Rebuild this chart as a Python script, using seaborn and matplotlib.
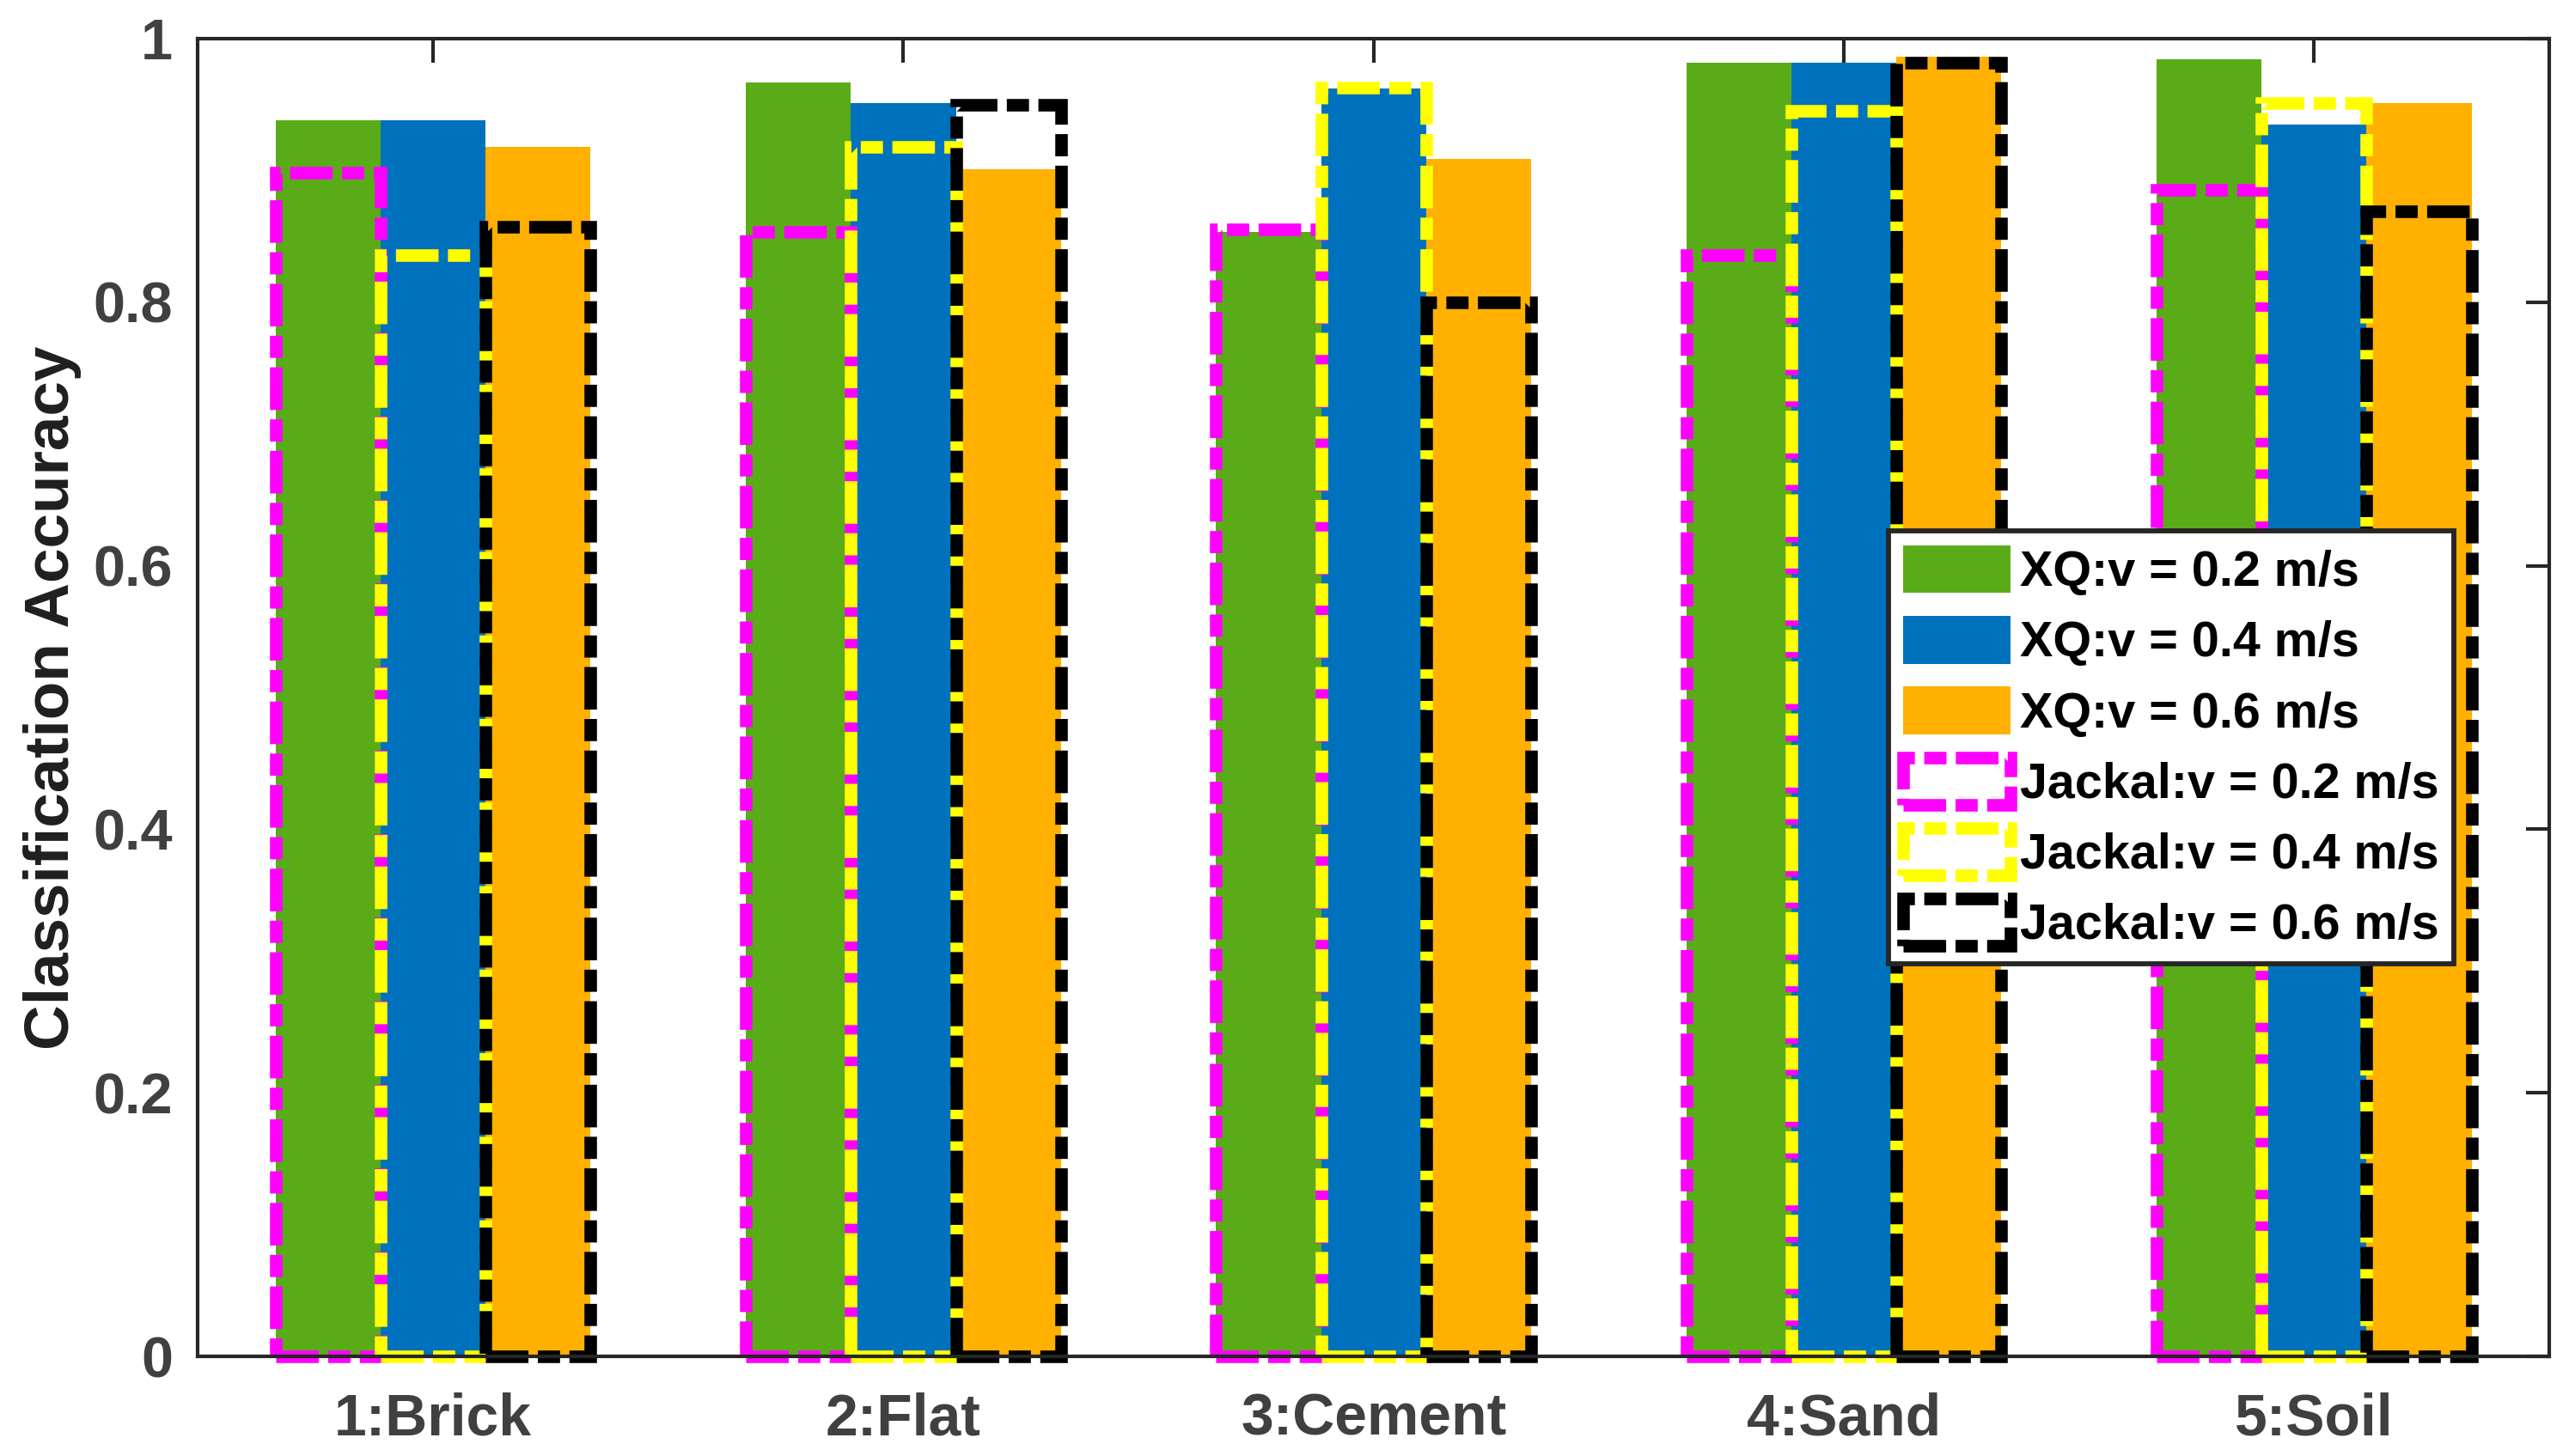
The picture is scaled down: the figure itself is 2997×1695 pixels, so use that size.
import matplotlib.pyplot as plt
import pandas as pd
import seaborn as sns
from matplotlib.patches import Patch

terrains = ["1:Brick", "2:Flat", "3:Cement", "4:Sand", "5:Soil"]

xq_labels = ["XQ:v = 0.2 m/s", "XQ:v = 0.4 m/s", "XQ:v = 0.6 m/s"]
jackal_labels = ["Jackal:v = 0.2 m/s", "Jackal:v = 0.4 m/s", "Jackal:v = 0.6 m/s"]

xq_v02 = [0.938, 0.967, 0.853, 0.982, 0.984]
xq_v04 = [0.938, 0.951, 0.962, 0.982, 0.935]
xq_v06 = [0.918, 0.901, 0.909, 0.986, 0.951]

jackal_v02 = [0.898, 0.853, 0.855, 0.836, 0.885]
jackal_v04 = [0.836, 0.918, 0.963, 0.945, 0.951]
jackal_v06 = [0.857, 0.950, 0.800, 0.982, 0.869]

y_ticks = [0, 0.2, 0.4, 0.6, 0.8, 1]
y_tick_labels = ["0", "0.2", "0.4", "0.6", "0.8", "1"]

xq_colors = ["#5AAB18", "#0072BD", "#FFB000"]
jackal_colors = ["#FF00FF", "#FFFF00", "#000000"]

DASH = (0, (3.4, 0.75, 1.77, 0.75))
LW_DASH = 3.5


def tabla(labels, series):
    filas = []
    for label, valores in zip(labels, series):
        for terreno, valor in zip(terrains, valores):
            filas.append({"terreno": terreno, "serie": label, "accuracy": valor})
    return pd.DataFrame(filas)


df_xq = tabla(xq_labels, [xq_v02, xq_v04, xq_v06])
df_jackal = tabla(jackal_labels, [jackal_v02, jackal_v04, jackal_v06])

sns.set_style("white")
plt.rcParams["font.family"] = ["Liberation Sans", "DejaVu Sans"]
plt.rcParams["font.weight"] = "bold"
plt.rcParams["axes.labelweight"] = "bold"

fig = plt.figure(figsize=(9.99, 5.65), dpi=300)
ax = fig.add_axes([0.0769, 0.0684, 0.990 - 0.0769, 0.9735 - 0.0684])

sns.barplot(
    data=df_xq, x="terreno", y="accuracy", hue="serie",
    order=terrains, hue_order=xq_labels, palette=xq_colors,
    saturation=1, width=0.67, gap=0, errorbar=None,
    linewidth=0, edgecolor="none", legend=False, ax=ax
)

sns.barplot(
    data=df_jackal, x="terreno", y="accuracy", hue="serie",
    order=terrains, hue_order=jackal_labels, palette=jackal_colors,
    saturation=1, width=0.67, gap=0, errorbar=None, fill=False,
    linewidth=LW_DASH, linestyle=DASH, legend=False, ax=ax
)

# los contornos punteados salen un poco por debajo del eje, como en el original
for container in ax.containers[3:]:
    for bar in container:
        bar.set_clip_on(False)

ax.set_xlim(-0.5, 4.5)
ax.set_ylim(0, 1)
ax.set_yticks(y_ticks)
ax.set_yticklabels(y_tick_labels)

ax.set_xlabel("")
ax.set_ylabel("Classification Accuracy", fontsize=17.5, color="#1f1f1f")
ax.yaxis.set_label_coords(-0.0495, 0.5)

ax.tick_params(axis="both", direction="in", top=True, right=True,
               length=6.6, width=1, color="#262626",
               labelcolor="#404040", labelsize=16)
ax.tick_params(axis="x", pad=10, labelsize=16.3)
ax.tick_params(axis="y", pad=7)

for spine in ax.spines.values():
    spine.set_visible(True)
    spine.set_color("#262626")
    spine.set_linewidth(1)

handles = [Patch(facecolor=c, edgecolor="none") for c in xq_colors]
handles += [Patch(facecolor="none", edgecolor=c, linewidth=LW_DASH, linestyle=DASH)
            for c in jackal_colors]

leg = ax.legend(
    handles, xq_labels + jackal_labels,
    loc="upper right", bbox_to_anchor=(0.9595, 0.6265), borderaxespad=0,
    fontsize=13.8, handlelength=2.17, handleheight=1.1,
    handletextpad=0.2, labelspacing=0.4, borderpad=0.3,
    frameon=True, fancybox=False, framealpha=1, edgecolor="#262626"
)
leg.get_frame().set_linewidth(1.4)
for text in leg.get_texts():
    text.set_color("black")

fig.savefig("out.png", dpi=300)
